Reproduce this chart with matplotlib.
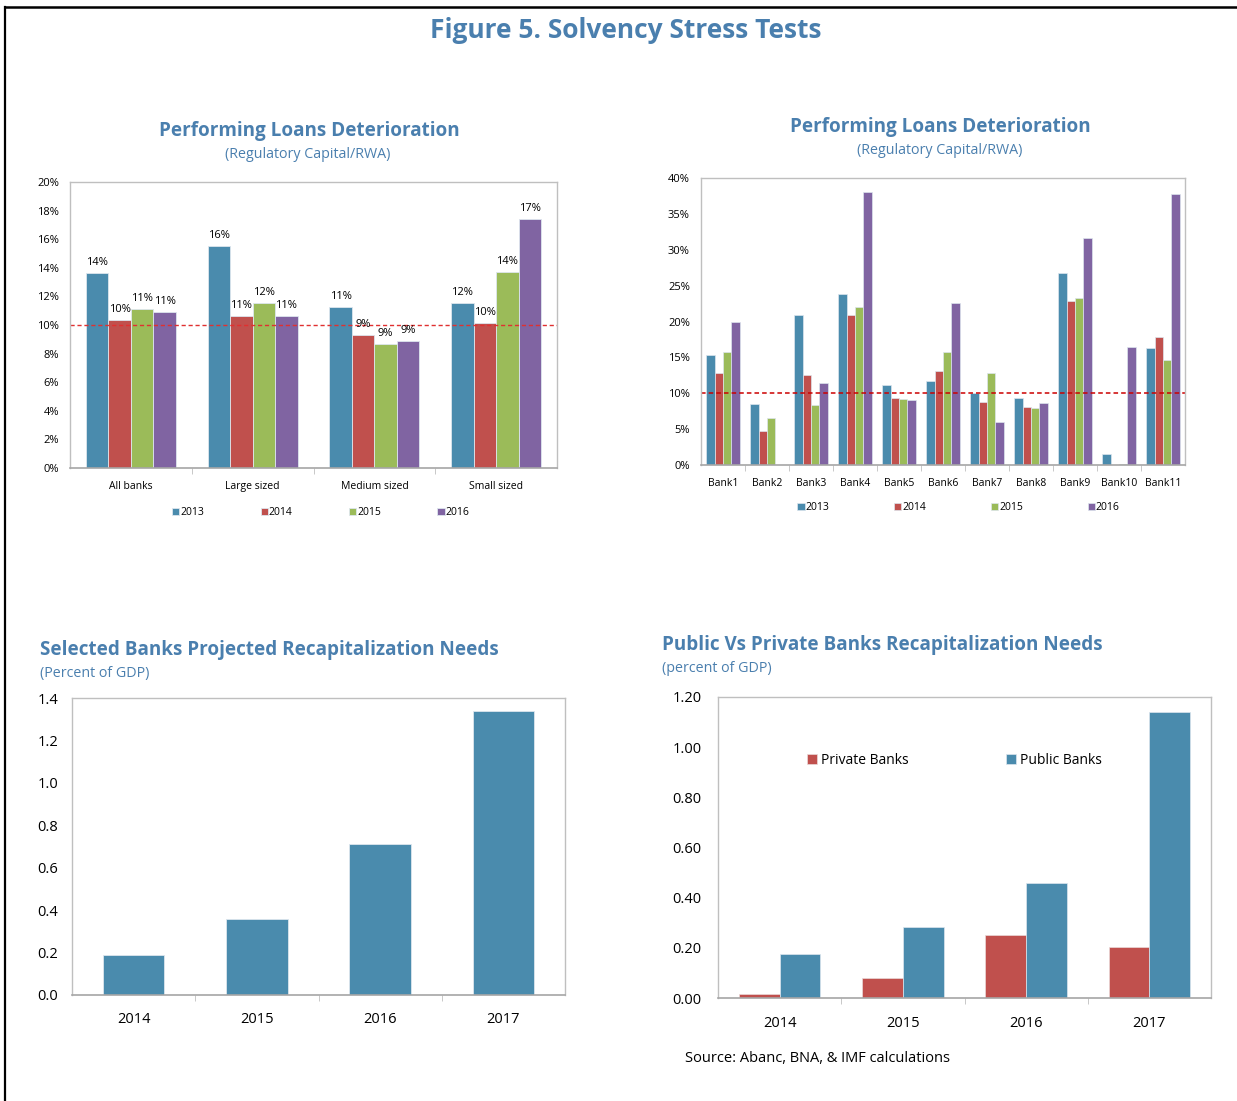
import matplotlib
matplotlib.use("Agg")
import matplotlib.pyplot as plt
import numpy as np
from matplotlib.lines import Line2D

plt.rcParams["font.family"] = ["Open Sans", "DejaVu Sans"]

# ---- data ----
years_a = ["2013", "2014", "2015", "2016"]
groups = ["All banks", "Large sized", "Medium sized", "Small sized"]
grp_2013 = [13.64, 15.55, 11.26, 11.54]
grp_2014 = [10.35, 10.63, 9.30, 10.12]
grp_2015 = [11.10, 11.55, 8.65, 13.70]
grp_2016 = [10.89, 10.60, 8.88, 17.44]

banks = ["Bank1", "Bank2", "Bank3", "Bank4", "Bank5", "Bank6",
         "Bank7", "Bank8", "Bank9", "Bank10", "Bank11"]
bank_2013 = [15.3, 8.5, 20.9, 23.9, 11.2, 11.7, 10.1, 9.3, 26.7, 1.5, 16.3]
bank_2014 = [12.8, 4.8, 12.5, 20.9, 9.3, 13.1, 8.8, 8.1, 22.9, 0.0, 17.8]
bank_2015 = [15.8, 6.5, 8.3, 22.0, 9.2, 15.7, 12.8, 8.0, 23.3, 0.15, 14.6]
bank_2016 = [19.9, 0.0, 11.4, 38.0, 9.1, 22.6, 6.0, 8.7, 31.7, 16.4, 37.8]
threshold = 10

recap_years = ["2014", "2015", "2016", "2017"]
recap_total = [0.19, 0.36, 0.71, 1.34]
recap_private = [0.015, 0.08, 0.253, 0.205]
recap_public = [0.175, 0.282, 0.46, 1.14]

# ---- style ----
BLUE = "#4A8BAD"
RED = "#C0504D"
GREEN = "#9BBB59"
PURPLE = "#8064A2"
TITLE = "#4A7FAE"
SPINE = "#BFBFBF"
series_colors = [BLUE, RED, GREEN, PURPLE]

W, H = 1237, 1101
fig = plt.figure(figsize=(W / 100, H / 100), dpi=100)


def px_axes(l, t, r, b):
    return fig.add_axes([l / W, 1 - b / H, (r - l) / W, (b - t) / H])


def ftext(x, y, s, **kw):
    fig.text(x / W, 1 - y / H, s, va="center", **kw)


def frame(ax, bottom="#A6A6A6"):
    for side in ["top", "right", "left"]:
        ax.spines[side].set_color(SPINE)
        ax.spines[side].set_linewidth(1.0)
    ax.spines["bottom"].set_color(bottom)
    ax.spines["bottom"].set_linewidth(1.2)
    ax.tick_params(axis="y", length=0, pad=8)
    ax.tick_params(axis="x", which="major", length=0)
    ax.tick_params(axis="x", which="minor", length=4, color=SPINE)


# border of the page
fig.add_artist(Line2D([5 / W, 5 / W], [0, 1 - 7 / H], color="black", lw=1.6))
fig.add_artist(Line2D([5 / W, 1], [1 - 7 / H, 1 - 7 / H], color="black", lw=1.8))

ftext(626, 31, "Figure 5. Solvency Stress Tests", ha="center",
      fontsize=19, fontweight="bold", color=TITLE)

# ---- top left ----
ax1 = px_axes(70, 182, 557, 468)
x = np.arange(len(groups))
bw = 0.185
for i, (vals, c, lab) in enumerate(zip([grp_2013, grp_2014, grp_2015, grp_2016],
                                       series_colors, years_a)):
    pos = x + (i - 1.5) * bw
    ax1.bar(pos, vals, bw, color=c, edgecolor="#DDE6EE", linewidth=0.6, label=lab)
    for p, v in zip(pos, vals):
        ax1.text(p, v + 0.35, f"{v:.0f}%", ha="center", va="bottom", fontsize=8)
ax1.axhline(threshold, color="#E03030", ls=(0, (3, 2)), lw=1.0)
ax1.set_xlim(-0.5, len(groups) - 0.5)
ax1.set_ylim(0, 20)
ax1.set_yticks(np.arange(0, 21, 2))
ax1.set_yticklabels([f"{t}%" for t in range(0, 21, 2)], fontsize=8)
ax1.set_xticks(x)
ax1.set_xticklabels(groups, fontsize=7.5)
ax1.set_xticks(np.arange(0.5, len(groups) - 1, 1), minor=True)
frame(ax1)
ax1.tick_params(axis="x", which="major", pad=9)
ax1.legend(loc="center", bbox_to_anchor=(0.515, -0.157), ncol=4, frameon=False,
           fontsize=7.5, handlelength=0.7, handleheight=0.7, handletextpad=0.1,
           columnspacing=5.4)
ftext(309, 131, "Performing Loans Deterioration", ha="center",
      fontsize=13.6, fontweight="bold", color=TITLE)
ftext(308, 154, "(Regulatory Capital/RWA)", ha="center", fontsize=10.3, color=TITLE)

# ---- top right ----
ax2 = px_axes(701, 178, 1185, 465)
xb = np.arange(len(banks))
bw2 = 0.19
for i, (vals, c, lab) in enumerate(zip([bank_2013, bank_2014, bank_2015, bank_2016],
                                       series_colors, years_a)):
    pos = xb + (i - 1.5) * bw2
    ax2.bar(pos, vals, bw2, color=c, edgecolor="#DDE6EE", linewidth=0.5, label=lab)
ax2.axhline(threshold, color="#CC0000", ls=(0, (3, 2)), lw=1.1)
ax2.set_xlim(-0.5, len(banks) - 0.5)
ax2.set_ylim(0, 40)
ax2.set_yticks(np.arange(0, 41, 5))
ax2.set_yticklabels([f"{t}%" for t in range(0, 41, 5)], fontsize=8)
ax2.set_xticks(xb)
ax2.set_xticklabels(banks, fontsize=7.5)
ax2.set_xticks(np.arange(0.5, len(banks) - 1, 1), minor=True)
frame(ax2)
ax2.tick_params(axis="x", which="major", pad=9)
ax2.legend(loc="center", bbox_to_anchor=(0.532, -0.148), ncol=4, frameon=False,
           fontsize=7.5, handlelength=0.7, handleheight=0.7, handletextpad=0.1,
           columnspacing=6.2)
ftext(940, 127, "Performing Loans Deterioration", ha="center",
      fontsize=13.6, fontweight="bold", color=TITLE)
ftext(940, 150, "(Regulatory Capital/RWA)", ha="center", fontsize=10.3, color=TITLE)

# ---- bottom left ----
ax3 = px_axes(72, 698, 565, 995)
xr = np.arange(len(recap_years))
ax3.bar(xr, recap_total, 0.5, color=BLUE, edgecolor="#DDE6EE", linewidth=0.6)
ax3.set_xlim(-0.5, len(recap_years) - 0.5)
ax3.set_ylim(0, 1.4)
ax3.set_yticks(np.arange(0, 1.41, 0.2))
ax3.set_yticklabels([f"{t:.1f}" for t in np.arange(0, 1.41, 0.2)], fontsize=10.5)
ax3.set_xticks(xr)
ax3.set_xticklabels(recap_years, fontsize=10.5)
ax3.set_xticks(np.arange(0.5, len(recap_years) - 1, 1), minor=True)
frame(ax3)
ax3.tick_params(axis="y", pad=10)
ax3.tick_params(axis="x", which="major", pad=12)
ftext(40, 650, "Selected Banks Projected Recapitalization Needs", ha="left",
      fontsize=13.6, fontweight="bold", color=TITLE)
ftext(40, 674, "(Percent of GDP)", ha="left", fontsize=10.3, color=TITLE)

# ---- bottom right ----
ax4 = px_axes(718, 697, 1211, 998)
bw4 = 0.33
ax4.bar(xr - bw4 / 2, recap_private, bw4, color=RED, edgecolor="#EADADA",
        linewidth=0.5, label="Private Banks")
ax4.bar(xr + bw4 / 2, recap_public, bw4, color=BLUE, edgecolor="#DDE6EE",
        linewidth=0.5, label="Public Banks")
ax4.set_xlim(-0.5, len(recap_years) - 0.5)
ax4.set_ylim(0, 1.2)
ax4.set_yticks(np.arange(0, 1.21, 0.2))
ax4.set_yticklabels([f"{t:.2f}" for t in np.arange(0, 1.21, 0.2)], fontsize=10.5)
ax4.set_xticks(xr)
ax4.set_xticklabels(recap_years, fontsize=10.5)
ax4.set_xticks(np.arange(0.5, len(recap_years) - 1, 1), minor=True)
frame(ax4)
ax4.tick_params(axis="y", pad=12)
ax4.tick_params(axis="x", which="major", pad=13)
ax4.legend(loc="center", bbox_to_anchor=(0.48, 0.79), ncol=2, frameon=False,
           fontsize=10, handlelength=0.7, handleheight=0.7, handletextpad=0.3,
           columnspacing=7.0)
ftext(662, 645, "Public Vs Private Banks Recapitalization Needs", ha="left",
      fontsize=13.6, fontweight="bold", color=TITLE)
ftext(662, 669, "(percent of GDP)", ha="left", fontsize=10.3, color=TITLE)
ftext(685, 1058, "Source: Abanc, BNA, & IMF calculations", ha="left", fontsize=10.5)

fig.savefig("out.png", dpi=100, facecolor="white")
